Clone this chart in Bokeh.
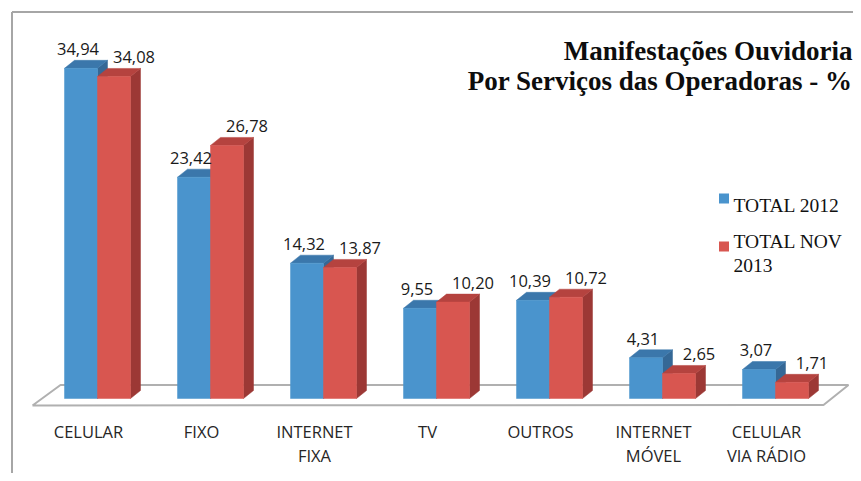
from bokeh.plotting import figure
from bokeh.models import Range1d, ColumnDataSource
from bokeh.core.properties import value
from bokeh.embed import file_html
from bokeh.resources import INLINE

# ---------------- data ----------------
categories = ["CELULAR", "FIXO", "INTERNET\nFIXA", "TV", "OUTROS", "INTERNET\nMÓVEL", "CELULAR\nVIA RÁDIO"]
total_2012 = [34.94, 23.42, 14.32, 9.55, 10.39, 4.31, 3.07]
total_nov_2013 = [34.08, 26.78, 13.87, 10.20, 10.72, 2.65, 1.71]
series_names = ["TOTAL 2012", "TOTAL NOV\n2013"]
title_lines = ["Manifestações Ouvidoria", "Por Serviços das Operadoras - %"]

# ---------------- geometry ----------------
W, H = 853, 473
PX_X = 113.0          # pixels per category
PX_Y = 9.45           # pixels per percent
X0 = -97 / PX_X
Y0 = -(H - 398) / PX_Y
BW = 33 / PX_X        # bar width
DX = 10 / PX_X        # 3D depth x
DY = 8 / PX_Y         # 3D depth y


def fx(px):
    return X0 + px / PX_X


def fy(py):
    return Y0 + (H - py) / PX_Y


p = figure(width=W, height=H, output_backend="svg", toolbar_location=None,
           x_range=Range1d(X0, X0 + W / PX_X), y_range=Range1d(Y0, Y0 + H / PX_Y),
           min_border=0, background_fill_color="white", border_fill_color="white")
p.axis.visible = False
p.grid.visible = False
p.outline_line_color = None

# chart border (left and top)
p.line([fx(11.5), fx(11.5)], [fy(11.5), fy(490)], line_color="#A6A6A6", line_width=2)
p.line([fx(11.5), fx(870)], [fy(11.5), fy(11.5)], line_color="#A6A6A6", line_width=2)

# floor
n = len(categories)
floor_x = [fx(32), fx(60), fx(848), fx(823), fx(32)]
floor_y = [fy(405), fy(384.5), fy(384.5), fy(404.5), fy(405)]
p.line(floor_x, floor_y, line_color="#B0B0B0", line_width=2)


def draw_series(vals, offset, front, top, side):
    xs_side, ys_side, xs_top, ys_top = [], [], [], []
    lefts, rights = [], []
    for i, v in enumerate(vals):
        x0 = i + offset
        x1 = x0 + BW
        lefts.append(x0)
        rights.append(x1)
        xs_side.append([x1, x1, x1 + DX, x1 + DX])
        ys_side.append([0, v, v + DY, DY])
        xs_top.append([x0, x1, x1 + DX, x0 + DX])
        ys_top.append([v, v, v + DY, v + DY])
    p.patches(xs_side, ys_side, fill_color=side, line_color=side, line_width=0.5)
    p.patches(xs_top, ys_top, fill_color=top, line_color=top, line_width=0.5)
    p.quad(left=lefts, right=rights, bottom=[0] * len(vals), top=vals,
           fill_color=front, line_color=front, line_width=0.5)


draw_series(total_2012, -BW, "#4A94CD", "#3B77AB", "#356896")
draw_series(total_nov_2013, 0, "#D85650", "#B5433F", "#9C3835")

# value labels
fmt = lambda v: f"{v:.2f}".replace(".", ",")
src_b = ColumnDataSource(dict(x=[i - BW / 2 for i in range(n)], y=total_2012,
                              t=[fmt(v) for v in total_2012]))
src_r = ColumnDataSource(dict(x=[i + BW / 2 for i in range(n)], y=total_nov_2013,
                              t=[fmt(v) for v in total_nov_2013]))
for src, xo in ((src_b, -3), (src_r, 20)):
    p.text(x="x", y="y", text="t", source=src, x_offset=xo, y_offset=-19,
           text_align="center", text_baseline="middle",
           text_font=value("Open Sans"), text_font_size="16.5px", text_color="#1A1A1A")

# category labels
p.text(x=list(range(n)), y=[fy(419)] * n, text=categories, x_offset=-9,
       text_align="center", text_baseline="top", text_line_height=1.08,
       text_font=value("Open Sans"), text_font_size="16.5px", text_color="#262626")

# title
p.text(x=[fx(852), fx(852)], y=[fy(50), fy(80)], text=title_lines,
       text_align="right", text_baseline="alphabetic",
       text_font=value("Liberation Serif"), text_font_style="bold",
       text_font_size="27px", text_color="#0D0D0D")

# legend
p.rect(x=[fx(723.5), fx(723.5)], y=[fy(198), fy(246)], width=10, height=10,
       width_units="screen", height_units="screen",
       fill_color=["#4A94CD", "#D85650"], line_color=None)
p.text(x=[fx(733), fx(733)], y=[fy(205), fy(253)], text=series_names,
       text_align="left", text_baseline="alphabetic", text_line_height=1.1,
       text_font=value("Liberation Serif"), text_font_size="19.5px", text_color="#111111")

open("out.html", "w").write(file_html(p, INLINE))
